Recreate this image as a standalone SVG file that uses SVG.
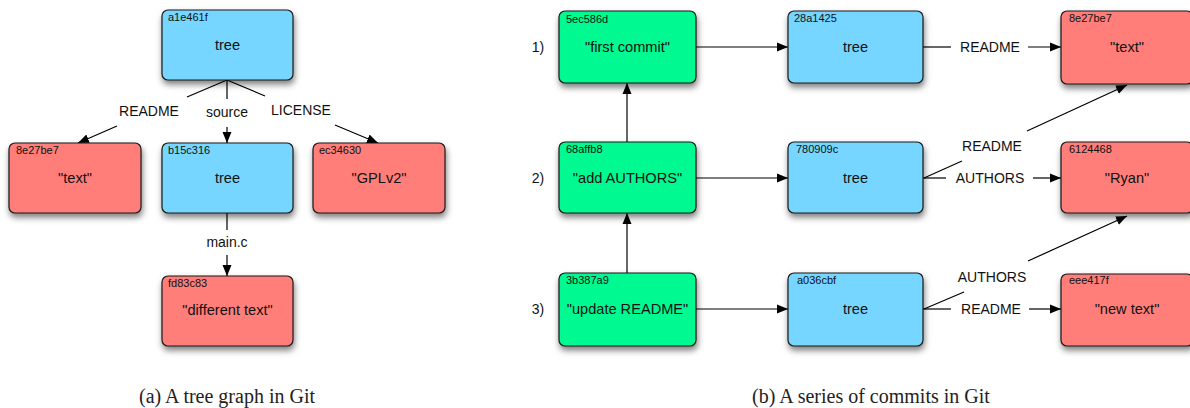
<svg xmlns="http://www.w3.org/2000/svg" width="1190" height="408" viewBox="0 0 1190 408">
<style>
.box{stroke:#1a1a1a;stroke-width:1.2;filter:url(#sh)}
.blue{fill:#76d6ff}.red{fill:#ff7e79}.green{fill:#00f991}
.hash{font-family:"Liberation Sans",Arial,sans-serif;font-size:11px;fill:#111}
.main{font-family:"Liberation Sans",Arial,sans-serif;font-size:14.6px;fill:#111;text-anchor:middle}
.lbl{font-family:"Liberation Sans",Arial,sans-serif;font-size:14px;fill:#111;text-anchor:middle}
.cap{font-family:"Liberation Serif","Times New Roman",serif;font-size:20px;fill:#222;text-anchor:middle}
.ln{stroke:#000;stroke-width:1.2;fill:none}
.ar{marker-end:url(#ah)}
</style>
<defs>
<filter id="sh" x="-20%" y="-20%" width="140%" height="150%">
<feDropShadow dx="1" dy="4" stdDeviation="3" flood-color="#000" flood-opacity="0.5"/>
</filter>
<marker id="ah" markerUnits="userSpaceOnUse" markerWidth="12" markerHeight="10" refX="11" refY="5" orient="auto">
<path d="M0,0.5 L11,5 L0,9.5 z" fill="#000"/>
</marker>
</defs>
<rect width="1190" height="408" fill="#fff"/>

<g id="connectors">
<line class="ln" x1="227" y1="80" x2="187" y2="97"/>
<line class="ln ar" x1="117" y1="126" x2="78" y2="143"/>
<line class="ln" x1="227" y1="80" x2="227" y2="99"/>
<line class="ln ar" x1="227" y1="127" x2="227" y2="143"/>
<line class="ln" x1="227" y1="80" x2="265" y2="96"/>
<line class="ln ar" x1="335" y1="125" x2="378" y2="143"/>
<line class="ln" x1="227" y1="213" x2="227" y2="230"/>
<line class="ln ar" x1="227" y1="255" x2="227" y2="276"/>
<line class="ln ar" x1="696" y1="47" x2="788" y2="47"/>
<line class="ln ar" x1="696" y1="178" x2="788" y2="178"/>
<line class="ln ar" x1="696" y1="309" x2="788" y2="309"/>
<line class="ln ar" x1="627" y1="142" x2="627" y2="83"/>
<line class="ln ar" x1="627" y1="273" x2="627" y2="213"/>
<line class="ln" x1="923" y1="47" x2="951" y2="47"/>
<line class="ln ar" x1="1028" y1="47" x2="1061" y2="47"/>
<line class="ln" x1="924" y1="178" x2="962" y2="161"/>
<line class="ln ar" x1="1027" y1="131" x2="1127" y2="85"/>
<line class="ln" x1="923" y1="178" x2="946" y2="178"/>
<line class="ln ar" x1="1033" y1="178" x2="1061" y2="178"/>
<line class="ln" x1="924" y1="309" x2="964" y2="292"/>
<line class="ln ar" x1="1028" y1="261" x2="1127" y2="216"/>
<line class="ln" x1="923" y1="309" x2="951" y2="309"/>
<line class="ln ar" x1="1029" y1="309" x2="1061" y2="309"/>
<text class="lbl" x="149" y="116">README</text>
<text class="lbl" x="227" y="117">source</text>
<text class="lbl" x="301" y="115">LICENSE</text>
<text class="lbl" x="227" y="247">main.c</text>
<text class="lbl" x="990" y="52">README</text>
<text class="lbl" x="992" y="151">README</text>
<text class="lbl" x="990" y="183">AUTHORS</text>
<text class="lbl" x="992" y="282">AUTHORS</text>
<text class="lbl" x="991" y="314">README</text>
</g>

<g id="a1e461f"><rect class="box blue" x="162" y="10" width="131" height="70" rx="6"/><text class="hash" x="168" y="21">a1e461f</text><text class="main" x="227.5" y="50">tree</text></g>
<g id="left-8e27be7"><rect class="box red" x="9" y="143" width="132" height="70" rx="6"/><text class="hash" x="16" y="154">8e27be7</text><text class="main" x="75" y="183">"text"</text></g>
<g id="b15c316"><rect class="box blue" x="162" y="143" width="131" height="70" rx="6"/><text class="hash" x="168" y="154">b15c316</text><text class="main" x="227.5" y="183">tree</text></g>
<g id="ec34630"><rect class="box red" x="313" y="143" width="132" height="70" rx="6"/><text class="hash" x="319" y="154">ec34630</text><text class="main" x="379" y="183">"GPLv2"</text></g>
<g id="fd83c83"><rect class="box red" x="162" y="276" width="131" height="70" rx="6"/><text class="hash" x="168" y="287">fd83c83</text><text class="main" x="227.5" y="315">"different text"</text></g>

<g id="step-labels">
<text class="lbl" x="538" y="52">1)</text>
<text class="lbl" x="538" y="183">2)</text>
<text class="lbl" x="538" y="314">3)</text>
</g>

<g id="5ec586d"><rect class="box green" x="559" y="11" width="137" height="72" rx="6"/><text class="hash" x="566" y="23">5ec586d</text><text class="main" x="627.5" y="52">"first commit"</text></g>
<g id="68affb8"><rect class="box green" x="559" y="142" width="137" height="71" rx="6"/><text class="hash" x="566" y="153">68affb8</text><text class="main" x="627.5" y="183">"add AUTHORS"</text></g>
<g id="3b387a9"><rect class="box green" x="559" y="273" width="137" height="73" rx="6"/><text class="hash" x="566" y="284">3b387a9</text><text class="main" x="627.5" y="314">"update README"</text></g>

<g id="28a1425"><rect class="box blue" x="788" y="11" width="135" height="72" rx="6"/><text class="hash" x="794" y="22">28a1425</text><text class="main" x="855.5" y="52">tree</text></g>
<g id="780909c"><rect class="box blue" x="788" y="142" width="135" height="71" rx="6"/><text class="hash" x="796" y="153">780909c</text><text class="main" x="855.5" y="183">tree</text></g>
<g id="a036cbf"><rect class="box blue" x="788" y="273" width="135" height="73" rx="6"/><text class="hash" x="797" y="284">a036cbf</text><text class="main" x="855.5" y="314">tree</text></g>

<g id="right-8e27be7"><rect class="box red" x="1061" y="11" width="132" height="73" rx="6"/><text class="hash" x="1069" y="22">8e27be7</text><text class="main" x="1127" y="52">"text"</text></g>
<g id="6124468"><rect class="box red" x="1061" y="142" width="132" height="71" rx="6"/><text class="hash" x="1069" y="153">6124468</text><text class="main" x="1127" y="183">"Ryan"</text></g>
<g id="eee417f"><rect class="box red" x="1061" y="274" width="132" height="72" rx="6"/><text class="hash" x="1069" y="284">eee417f</text><text class="main" x="1127" y="314">"new text"</text></g>

<g id="captions">
<text class="cap" x="227" y="403">(a) A tree graph in Git</text>
<text class="cap" x="871" y="403">(b) A series of commits in Git</text>
</g>
</svg>
